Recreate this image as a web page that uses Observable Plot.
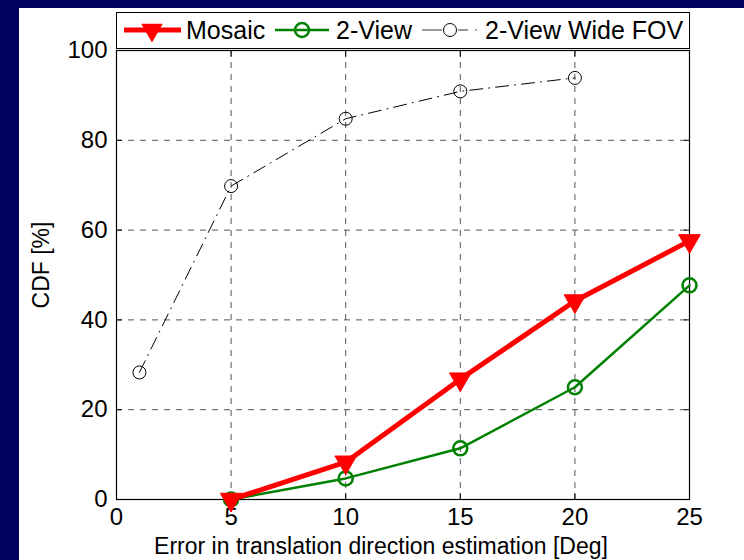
<!DOCTYPE html>
<html><head><meta charset="utf-8">
<script src="https://cdn.jsdelivr.net/npm/d3@7"></script>
<script src="https://cdn.jsdelivr.net/npm/@observablehq/plot@0.6"></script>
<style>
body{margin:0;background:#000060;font-family:"Liberation Sans",Arial,sans-serif;}
#page{position:relative;width:744px;height:560px;background:#000060;overflow:hidden;}
#white{position:absolute;left:19px;top:8px;width:725px;height:552px;background:#fff;}
#chart{position:absolute;left:0;top:0;}
#legend{position:absolute;left:116px;top:12px;}
</style></head>
<body><div id="page"><div id="white"></div><div id="chart"></div><div id="legend"></div></div>
<script>
const xMosaic = [5, 10, 15, 20, 25];
const yMosaic = [0, 8.3, 26.8, 44.2, 57.6];
const x2View = [5, 10, 15, 20, 25];
const y2View = [0, 4.7, 11.4, 25.0, 47.7];
const xWide = [1, 5, 10, 15, 20];
const yWide = [28.3, 69.8, 84.8, 90.9, 93.9];
const xTicks = [0, 5, 10, 15, 20, 25];
const yTicks = [0, 20, 40, 60, 80, 100];
const seriesNames = ["Mosaic", "2-View", "2-View Wide FOV"];
const xLabel = "Error in translation direction estimation [Deg]";
const yLabel = "CDF [%]";

const mosaic = xMosaic.map((x, i) => ({x, y: yMosaic[i]}));
const twoView = x2View.map((x, i) => ({x, y: y2View[i]}));
const wide = xWide.map((x, i) => ({x, y: yWide[i]}));

const chart = Plot.plot({
  width: 744, height: 560,
  marginLeft: 116, marginRight: 55, marginTop: 50, marginBottom: 61,
  style: {background: "transparent", fontFamily: "Liberation Sans, Arial, sans-serif", fontSize: "24px", color: "#000"},
  x: {domain: [0, 25]},
  y: {domain: [0, 100]},
  marks: [
    Plot.gridX([5, 10, 15, 20], {stroke: "#555", strokeOpacity: 1, strokeDasharray: "6,6"}),
    Plot.gridY([20, 40, 60, 80], {stroke: "#555", strokeOpacity: 1, strokeDasharray: "6,6"}),
    Plot.axisX(xTicks, {anchor: "bottom", tickSize: 0, tickPadding: 8, label: null, fontSize: 24}),
    Plot.axisY(yTicks, {anchor: "left", tickSize: 0, tickPadding: 9, label: null, fontSize: 24}),
    Plot.axisX(xTicks, {anchor: "bottom", tickSize: -6, text: null, label: null}),
    Plot.axisX(xTicks, {anchor: "top", tickSize: -6, text: null, label: null}),
    Plot.axisY(yTicks, {anchor: "left", tickSize: -6, text: null, label: null}),
    Plot.axisY(yTicks, {anchor: "right", tickSize: -6, text: null, label: null}),
    Plot.text([xLabel], {text: d => d, frameAnchor: "bottom", dx: -22, dy: 47, textAnchor: "middle", lineAnchor: "middle", fontSize: 23}),
    Plot.text([yLabel], {text: d => d, frameAnchor: "left", dx: -75, dy: -10, rotate: -90, textAnchor: "middle", lineAnchor: "middle", fontSize: 23}),
    Plot.frame({stroke: "#000", strokeWidth: 1.2}),
    Plot.line(wide, {x: "x", y: "y", stroke: "#000", strokeWidth: 1, strokeDasharray: "13,6,1,6"}),
    Plot.dot(wide, {x: "x", y: "y", r: 6.5, stroke: "#000", strokeWidth: 1, fill: "none"}),
    Plot.line(twoView, {x: "x", y: "y", stroke: "#008000", strokeWidth: 2.5}),
    Plot.dot(twoView, {x: "x", y: "y", r: 7, stroke: "#008000", strokeWidth: 2.5, fill: "none"}),
    Plot.line(mosaic, {x: "x", y: "y", stroke: "#ff0000", strokeWidth: 5}),
    Plot.dot(mosaic, {x: "x", y: "y", r: 8, symbol: "triangle", rotate: 180, fill: "#ff0000", stroke: "#ff0000", strokeWidth: 1})
  ]
});
document.getElementById("chart").appendChild(chart);

// legend
const W = 574, H = 37;
const leg = d3.select("#legend").append("svg").attr("width", W).attr("height", H)
  .style("font-family", "Liberation Sans, Arial, sans-serif").style("font-size", "25px");
leg.append("rect").attr("x", 0.5).attr("y", 0.5).attr("width", W - 1).attr("height", H - 1)
  .attr("fill", "#fff").attr("stroke", "#000").attr("stroke-width", 1);
const cy = 18;
// Mosaic
leg.append("line").attr("x1", 8).attr("x2", 65).attr("y1", cy).attr("y2", cy)
  .attr("stroke", "#ff0000").attr("stroke-width", 5);
leg.append("path").attr("d", d3.symbol(d3.symbolTriangle, 8 * 8 * Math.PI)())
  .attr("transform", `translate(36,${cy}) rotate(180)`).attr("fill", "#ff0000");
leg.append("text").attr("x", 70).attr("y", cy + 9).text(seriesNames[0]);
// 2-View
leg.append("line").attr("x1", 159).attr("x2", 213).attr("y1", cy).attr("y2", cy)
  .attr("stroke", "#008000").attr("stroke-width", 2.5);
leg.append("circle").attr("cx", 186).attr("cy", cy).attr("r", 7)
  .attr("fill", "none").attr("stroke", "#008000").attr("stroke-width", 2.5);
leg.append("text").attr("x", 220).attr("y", cy + 9).text(seriesNames[1]);
// 2-View Wide FOV
leg.append("line").attr("x1", 306).attr("x2", 326).attr("y1", cy).attr("y2", cy)
  .attr("stroke", "#555").attr("stroke-width", 1.2);
leg.append("circle").attr("cx", 334).attr("cy", cy).attr("r", 6.5)
  .attr("fill", "none").attr("stroke", "#000").attr("stroke-width", 1);
leg.append("line").attr("x1", 342).attr("x2", 352).attr("y1", cy).attr("y2", cy)
  .attr("stroke", "#555").attr("stroke-width", 1.2);
leg.append("line").attr("x1", 359).attr("x2", 361).attr("y1", cy).attr("y2", cy)
  .attr("stroke", "#555").attr("stroke-width", 1.2);
leg.append("text").attr("x", 369).attr("y", cy + 9).text(seriesNames[2]);
</script></body></html>
